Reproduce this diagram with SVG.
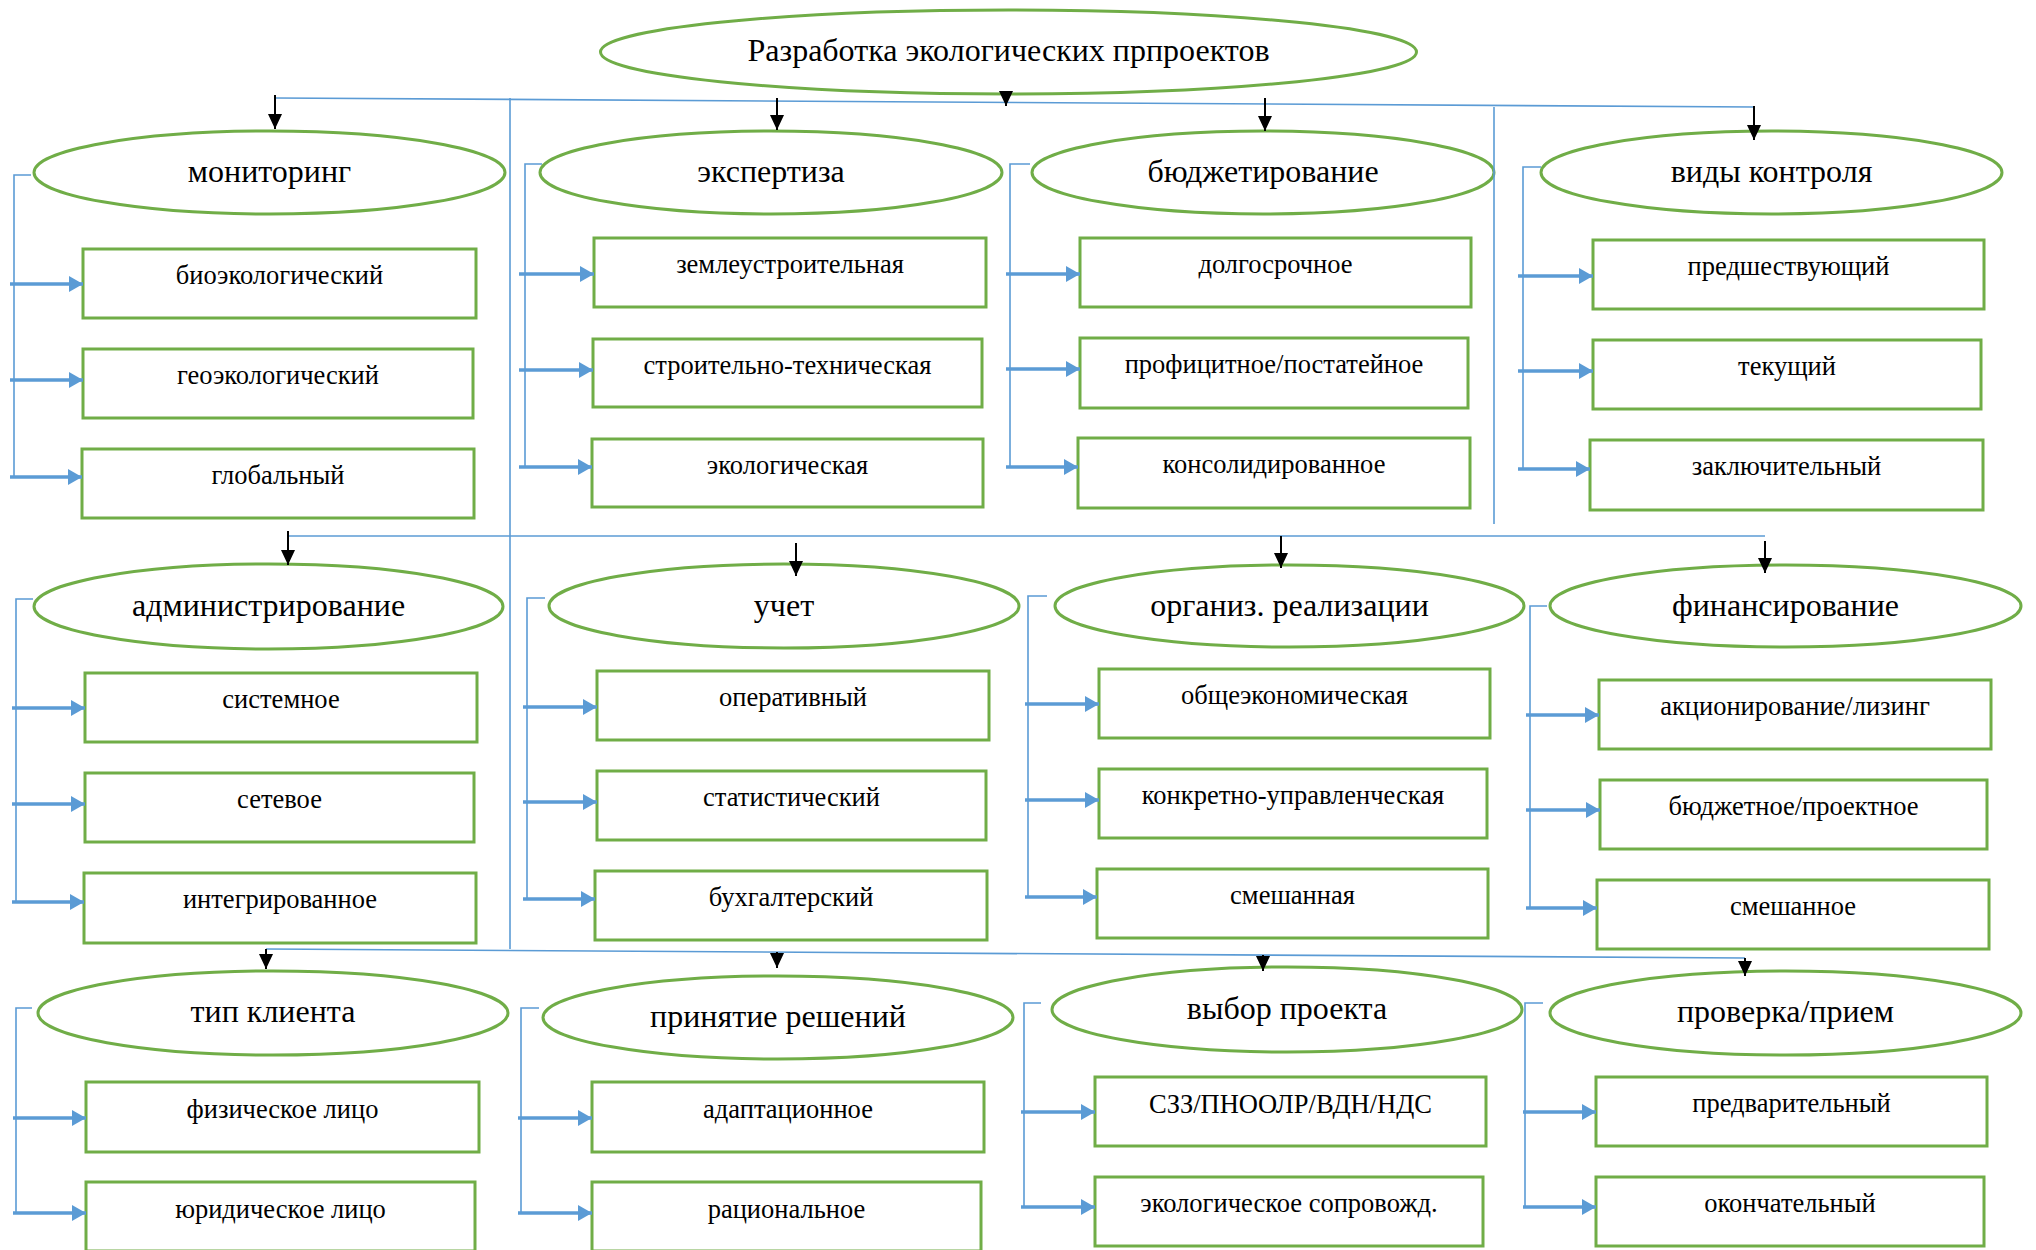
<svg xmlns="http://www.w3.org/2000/svg" width="2036" height="1250" viewBox="0 0 2036 1250">
<style>
.el{fill:#fff;stroke:#70AD47;stroke-width:3}
.bx{fill:#fff;stroke:#70AD47;stroke-width:3}
.t{font-family:"Liberation Serif","Times New Roman",serif;fill:#000;text-anchor:middle}
.te{font-size:32px}
.tb{font-size:26.5px}
.ln{stroke:#5B9BD5;stroke-width:1.6;fill:none}
.ba{stroke:#5B9BD5;stroke-width:3.5;fill:none;marker-end:url(#mb)}
.ka{stroke:#000;stroke-width:2;fill:none;marker-end:url(#mk)}
</style>
<defs>
<marker id="mb" markerUnits="userSpaceOnUse" markerWidth="15" markerHeight="16" refX="14" refY="8" orient="auto"><path d="M0,0 L14,8 L0,16 z" fill="#5B9BD5"/></marker>
<marker id="mk" markerUnits="userSpaceOnUse" markerWidth="15" markerHeight="14" refX="15" refY="7" orient="auto"><path d="M0,0 L15,7 L0,14 z" fill="#000"/></marker>
</defs>
<rect width="2036" height="1250" fill="#fff"/>
<g id="root"><ellipse class="el" cx="1008.5" cy="52" rx="408" ry="42"/><text class="t te" x="1008.5" y="61">Разработка экологических прпроектов</text></g>
<g id="monitoring"><ellipse class="el" cx="269.5" cy="172.5" rx="235.5" ry="41.5"/><text class="t te" x="269.5" y="182">мониторинг</text></g>
<g id="expertiza"><ellipse class="el" cx="771" cy="172.5" rx="231" ry="41.5"/><text class="t te" x="771" y="182">экспертиза</text></g>
<g id="budget"><ellipse class="el" cx="1263" cy="172.5" rx="231" ry="41.5"/><text class="t te" x="1263" y="182">бюджетирование</text></g>
<g id="control"><ellipse class="el" cx="1771.5" cy="172.5" rx="230.5" ry="41.5"/><text class="t te" x="1771.5" y="182">виды контроля</text></g>
<g id="admin"><ellipse class="el" cx="268.5" cy="606.5" rx="234.5" ry="42.5"/><text class="t te" x="268.5" y="616">администрирование</text></g>
<g id="uchet"><ellipse class="el" cx="784" cy="606" rx="235" ry="42"/><text class="t te" x="784" y="616">учет</text></g>
<g id="organiz"><ellipse class="el" cx="1289.5" cy="606" rx="234.5" ry="41"/><text class="t te" x="1289.5" y="616">организ. реализации</text></g>
<g id="finance"><ellipse class="el" cx="1785.5" cy="606" rx="235.5" ry="41"/><text class="t te" x="1785.5" y="616">финансирование</text></g>
<g id="client"><ellipse class="el" cx="273" cy="1013" rx="235" ry="42"/><text class="t te" x="273" y="1022">тип клиента</text></g>
<g id="decision"><ellipse class="el" cx="778" cy="1017.5" rx="235" ry="41.5"/><text class="t te" x="778" y="1027">принятие решений</text></g>
<g id="choice"><ellipse class="el" cx="1287" cy="1009.5" rx="235" ry="42.5"/><text class="t te" x="1287" y="1019">выбор проекта</text></g>
<g id="check"><ellipse class="el" cx="1785.5" cy="1013" rx="235.5" ry="42"/><text class="t te" x="1785.5" y="1022">проверка/прием</text></g>
<g id="b1"><rect class="bx" x="83" y="249" width="393" height="69"/><text class="t tb" x="279.5" y="284">биоэкологический</text></g>
<g id="b2"><rect class="bx" x="83" y="349" width="390" height="69"/><text class="t tb" x="278" y="384">геоэкологический</text></g>
<g id="b3"><rect class="bx" x="82" y="449" width="392" height="69"/><text class="t tb" x="278" y="484">глобальный</text></g>
<g id="b4"><rect class="bx" x="594" y="238" width="392" height="69"/><text class="t tb" x="790" y="273">землеустроительная</text></g>
<g id="b5"><rect class="bx" x="593" y="339" width="389" height="68"/><text class="t tb" x="787.5" y="374">строительно-техническая</text></g>
<g id="b6"><rect class="bx" x="592" y="439" width="391" height="68"/><text class="t tb" x="787.5" y="474">экологическая</text></g>
<g id="b7"><rect class="bx" x="1080" y="238" width="391" height="69"/><text class="t tb" x="1275.5" y="273">долгосрочное</text></g>
<g id="b8"><rect class="bx" x="1080" y="338" width="388" height="70"/><text class="t tb" x="1274" y="373">профицитное/постатейное</text></g>
<g id="b9"><rect class="bx" x="1078" y="438" width="392" height="70"/><text class="t tb" x="1274" y="473">консолидированное</text></g>
<g id="b10"><rect class="bx" x="1593" y="240" width="391" height="69"/><text class="t tb" x="1788.5" y="275">предшествующий</text></g>
<g id="b11"><rect class="bx" x="1593" y="340" width="388" height="69"/><text class="t tb" x="1787" y="375">текущий</text></g>
<g id="b12"><rect class="bx" x="1590" y="440" width="393" height="70"/><text class="t tb" x="1786.5" y="475">заключительный</text></g>
<g id="b13"><rect class="bx" x="85" y="673" width="392" height="69"/><text class="t tb" x="281" y="708">системное</text></g>
<g id="b14"><rect class="bx" x="85" y="773" width="389" height="69"/><text class="t tb" x="279.5" y="808">сетевое</text></g>
<g id="b15"><rect class="bx" x="84" y="873" width="392" height="70"/><text class="t tb" x="280" y="908">интегрированное</text></g>
<g id="b16"><rect class="bx" x="597" y="671" width="392" height="69"/><text class="t tb" x="793" y="706">оперативный</text></g>
<g id="b17"><rect class="bx" x="597" y="771" width="389" height="69"/><text class="t tb" x="791.5" y="806">статистический</text></g>
<g id="b18"><rect class="bx" x="595" y="871" width="392" height="69"/><text class="t tb" x="791" y="906">бухгалтерский</text></g>
<g id="b19"><rect class="bx" x="1099" y="669" width="391" height="69"/><text class="t tb" x="1294.5" y="704">общеэкономическая</text></g>
<g id="b20"><rect class="bx" x="1099" y="769" width="388" height="69"/><text class="t tb" x="1293" y="804">конкретно-управленческая</text></g>
<g id="b21"><rect class="bx" x="1097" y="869" width="391" height="69"/><text class="t tb" x="1292.5" y="904">смешанная</text></g>
<g id="b22"><rect class="bx" x="1599" y="680" width="392" height="69"/><text class="t tb" x="1795" y="715">акционирование/лизинг</text></g>
<g id="b23"><rect class="bx" x="1600" y="780" width="387" height="69"/><text class="t tb" x="1793.5" y="815">бюджетное/проектное</text></g>
<g id="b24"><rect class="bx" x="1597" y="880" width="392" height="69"/><text class="t tb" x="1793" y="915">смешанное</text></g>
<g id="b25"><rect class="bx" x="86" y="1082" width="393" height="70"/><text class="t tb" x="282.5" y="1118">физическое лицо</text></g>
<g id="b26"><rect class="bx" x="86" y="1182" width="389" height="69"/><text class="t tb" x="280.5" y="1218">юридическое лицо</text></g>
<g id="b27"><rect class="bx" x="592" y="1082" width="392" height="70"/><text class="t tb" x="788" y="1118">адаптационное</text></g>
<g id="b28"><rect class="bx" x="592" y="1182" width="389" height="69"/><text class="t tb" x="786.5" y="1218">рациональное</text></g>
<g id="b29"><rect class="bx" x="1095" y="1077" width="391" height="69"/><text class="t tb" x="1290.5" y="1113">СЗЗ/ПНООЛР/ВДН/НДС</text></g>
<g id="b30"><rect class="bx" x="1095" y="1177" width="388" height="69"/><text class="t tb" x="1289" y="1212">экологическое сопровожд.</text></g>
<g id="b31"><rect class="bx" x="1596" y="1077" width="391" height="69"/><text class="t tb" x="1791.5" y="1112">предварительный</text></g>
<g id="b32"><rect class="bx" x="1596" y="1177" width="388" height="69"/><text class="t tb" x="1790" y="1212">окончательный</text></g>
<g id="connectors">
<line class="ln" x1="276" y1="98" x2="1754" y2="107"/>
<line class="ln" x1="510" y1="98" x2="510" y2="949"/>
<line class="ln" x1="1494" y1="107" x2="1494" y2="524"/>
<line class="ln" x1="288" y1="536" x2="1765" y2="536"/>
<line class="ln" x1="266" y1="949" x2="1745" y2="958"/>
<line class="ka" x1="1006" y1="92" x2="1006" y2="106"/>
<line class="ka" x1="275" y1="95" x2="275" y2="129"/>
<line class="ka" x1="777" y1="98" x2="777" y2="130"/>
<line class="ka" x1="1265" y1="98" x2="1265" y2="131"/>
<line class="ka" x1="1754" y1="106" x2="1754" y2="140"/>
<line class="ka" x1="288" y1="531" x2="288" y2="565"/>
<line class="ka" x1="796" y1="543" x2="796" y2="576"/>
<line class="ka" x1="1281" y1="536" x2="1281" y2="568"/>
<line class="ka" x1="1765" y1="541" x2="1765" y2="573"/>
<line class="ka" x1="266" y1="949" x2="266" y2="969"/>
<line class="ka" x1="777" y1="952" x2="777" y2="968"/>
<line class="ka" x1="1263" y1="955" x2="1263" y2="971"/>
<line class="ka" x1="1745" y1="958" x2="1745" y2="976"/>
<path class="ln" d="M31,175 H14 V477"/>
<path class="ln" d="M542,164 H525 V467"/>
<path class="ln" d="M1030,164 H1010 V467"/>
<path class="ln" d="M1541,167 H1523 V469"/>
<path class="ln" d="M33,599 H16 V902"/>
<path class="ln" d="M545,598 H527 V899"/>
<path class="ln" d="M1047,596 H1028 V897"/>
<path class="ln" d="M1547,606 H1530 V908"/>
<path class="ln" d="M32,1008 H16 V1213"/>
<path class="ln" d="M539,1008 H521 V1213"/>
<path class="ln" d="M1041,1003 H1024 V1207"/>
<path class="ln" d="M1543,1003 H1525 V1207"/>
<line class="ba" x1="10" y1="284" x2="83" y2="284"/>
<line class="ba" x1="10" y1="380" x2="83" y2="380"/>
<line class="ba" x1="10" y1="477" x2="82" y2="477"/>
<line class="ba" x1="519" y1="274" x2="594" y2="274"/>
<line class="ba" x1="519" y1="370" x2="593" y2="370"/>
<line class="ba" x1="519" y1="467" x2="592" y2="467"/>
<line class="ba" x1="1006" y1="274" x2="1080" y2="274"/>
<line class="ba" x1="1006" y1="369" x2="1080" y2="369"/>
<line class="ba" x1="1006" y1="467" x2="1078" y2="467"/>
<line class="ba" x1="1518" y1="276" x2="1593" y2="276"/>
<line class="ba" x1="1518" y1="371" x2="1593" y2="371"/>
<line class="ba" x1="1518" y1="469" x2="1590" y2="469"/>
<line class="ba" x1="12" y1="708" x2="85" y2="708"/>
<line class="ba" x1="12" y1="804" x2="85" y2="804"/>
<line class="ba" x1="12" y1="902" x2="84" y2="902"/>
<line class="ba" x1="523" y1="707" x2="597" y2="707"/>
<line class="ba" x1="523" y1="802" x2="597" y2="802"/>
<line class="ba" x1="523" y1="899" x2="595" y2="899"/>
<line class="ba" x1="1025" y1="704" x2="1099" y2="704"/>
<line class="ba" x1="1025" y1="800" x2="1099" y2="800"/>
<line class="ba" x1="1025" y1="897" x2="1097" y2="897"/>
<line class="ba" x1="1526" y1="715" x2="1599" y2="715"/>
<line class="ba" x1="1526" y1="810" x2="1600" y2="810"/>
<line class="ba" x1="1526" y1="908" x2="1597" y2="908"/>
<line class="ba" x1="13" y1="1118" x2="86" y2="1118"/>
<line class="ba" x1="13" y1="1213" x2="86" y2="1213"/>
<line class="ba" x1="518" y1="1118" x2="592" y2="1118"/>
<line class="ba" x1="518" y1="1213" x2="592" y2="1213"/>
<line class="ba" x1="1021" y1="1112" x2="1095" y2="1112"/>
<line class="ba" x1="1021" y1="1207" x2="1095" y2="1207"/>
<line class="ba" x1="1523" y1="1112" x2="1596" y2="1112"/>
<line class="ba" x1="1523" y1="1207" x2="1596" y2="1207"/>
</g>
</svg>
